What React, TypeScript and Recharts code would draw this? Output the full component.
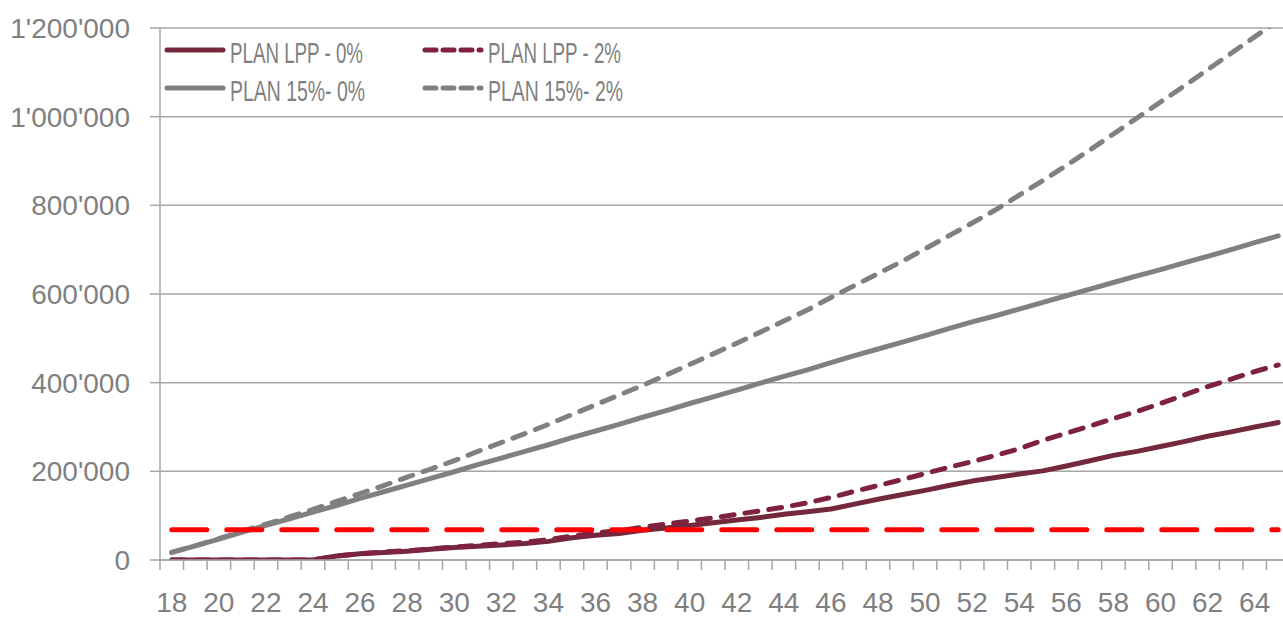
import { LineChart, Line, XAxis, YAxis, CartesianGrid, Legend } from "recharts";

// Age (x axis categories)
const AGES = [
  18, 19, 20, 21, 22, 23, 24, 25, 26, 27, 28, 29, 30, 31, 32, 33, 34, 35, 36, 37, 38, 39, 40, 41,
  42, 43, 44, 45, 46, 47, 48, 49, 50, 51, 52, 53, 54, 55, 56, 57, 58, 59, 60, 61, 62, 63, 64, 65,
];

// Capital per plan, CHF
const PLAN_LPP_0 = [
  0, 0, 0, 0, 0, 0, 0, 9000, 14000, 17000, 20000, 24000, 28000, 31000, 34000, 37000, 42000, 50000,
  56000, 60000, 67000, 72000, 78000, 84000, 90000, 96000, 103000, 109000, 115000, 126000, 137000,
  147000, 157000, 168000, 178000, 186000, 194000, 201000, 212000, 224000, 236000, 245000, 256000,
  267000, 279000, 289000, 300000, 310000,
];
const PLAN_LPP_2 = [
  0, 0, 0, 0, 0, 0, 0, 9000, 14000, 18000, 21000, 25000, 29000, 33000, 37000, 40000, 46000, 54000,
  61000, 66000, 74000, 81000, 88000, 95000, 103000, 111000, 119000, 129000, 141000, 155000, 168000,
  181000, 195000, 209000, 222000, 236000, 251000, 270000, 286000, 302000, 319000, 335000, 353000,
  372000, 391000, 408000, 425000, 440000,
];
const PLAN_15_0 = [
  17000, 32000, 47000, 63000, 78000, 93000, 108000, 123000, 139000, 154000, 169000, 184000, 199000,
  215000, 230000, 245000, 260000, 276000, 291000, 306000, 322000, 337000, 353000, 368000, 383000,
  399000, 414000, 429000, 445000, 461000, 476000, 491000, 506000, 522000, 537000, 551000, 566000,
  581000, 596000, 611000, 626000, 641000, 655000, 670000, 685000, 700000, 716000, 731000,
];
const PLAN_15_2 = [
  17000, 32000, 48000, 65000, 81000, 97000, 114000, 132000, 150000, 168000, 187000, 205000, 224000,
  245000, 265000, 285000, 306000, 328000, 350000, 372000, 394000, 417000, 441000, 465000, 489000,
  514000, 539000, 564000, 592000, 619000, 646000, 673000, 702000, 731000, 760000, 790000, 823000,
  856000, 890000, 925000, 961000, 997000, 1033000, 1069000, 1106000, 1143000, 1180000, 1217000,
];
// red dashed threshold
const THRESHOLD = 68000;

const Y_TICKS = [0, 200000, 400000, 600000, 800000, 1000000, 1200000];

const SERIES = [
  { key: "lpp0", name: "PLAN LPP - 0%", color: "#74283c", dash: undefined, textLen: 133 },
  { key: "lpp2", name: "PLAN LPP - 2%", color: "#7e2240", dash: "13 11", textLen: 133 },
  { key: "p15_0", name: "PLAN 15%- 0%", color: "#808080", dash: undefined, textLen: 135 },
  { key: "p15_2", name: "PLAN 15%- 2%", color: "#808080", dash: "13 11", textLen: 135 },
];

const data = AGES.map((age, i) => ({
  age,
  lpp0: PLAN_LPP_0[i],
  lpp2: PLAN_LPP_2[i],
  p15_0: PLAN_15_0[i],
  p15_2: PLAN_15_2[i],
  seuil: THRESHOLD,
}));

const CHART_W = 1300;
const CHART_H = 617;
const Y_AXIS_W = 160;
const MARGIN = { top: 28, right: 10, bottom: 0, left: 0 };
const PLOT_W = CHART_W - Y_AXIS_W - MARGIN.left - MARGIN.right;
const STEP = PLOT_W / AGES.length;

const TEXT = "#7f7f7f";
const AXIS = "#a6a6a6";
const FONT = "'Liberation Sans', Arial, sans-serif";

const fmt = (v: number) => String(v).replace(/\B(?=(\d{3})+(?!\d))/g, "'");

function AgeTick(props: any) {
  const { x, y, payload } = props;
  const bx = x - STEP / 2;
  return (
    <g>
      <line x1={bx} x2={bx} y1={y - 10} y2={y} stroke={AXIS} strokeWidth={1.5} />
      {payload.value % 2 === 0 && (
        <text x={x} y={y + 42} textAnchor="middle" fill={TEXT} fontSize={28} fontFamily={FONT}>
          {payload.value}
        </text>
      )}
    </g>
  );
}

function PlanLegend() {
  const rows = [
    [SERIES[0], SERIES[1]],
    [SERIES[2], SERIES[3]],
  ];
  return (
    <svg width={700} height={90}>
      {rows.map((row, r) =>
        row.map((s, c) => {
          const x0 = c === 0 ? 5 : 263;
          const ly = r === 0 ? 22 : 60;
          return (
            <g key={s.key}>
              <line
                x1={x0 + 2}
                x2={x0 + 58}
                y1={ly}
                y2={ly}
                stroke={s.color}
                strokeWidth={5}
                strokeLinecap="round"
                strokeDasharray={s.dash ? "11 7" : undefined}
              />
              <text
                x={x0 + 65}
                y={ly + 13}
                fill={TEXT}
                fontSize={30}
                fontFamily="'Liberation Sans Narrow', 'Arial Narrow', 'Liberation Sans', sans-serif"
                textLength={s.textLen}
                lengthAdjust="spacingAndGlyphs"
              >
                {s.name}
              </text>
            </g>
          );
        })
      )}
    </svg>
  );
}

export default function App() {
  return (
    <div
      style={{
        position: "absolute",
        left: 0,
        top: 0,
        width: 1283,
        height: 617,
        overflow: "hidden",
        background: "#fff",
      }}
    >
      <LineChart width={CHART_W} height={CHART_H} data={data} margin={MARGIN}>
        <CartesianGrid vertical={false} stroke={AXIS} strokeWidth={1.5} />
        <XAxis
          dataKey="age"
          height={57}
          interval={0}
          padding={{ left: STEP / 2, right: STEP / 2 }}
          tickSize={10}
          tickMargin={0}
          tickLine={false}
          axisLine={{ stroke: AXIS, strokeWidth: 1.5 }}
          tick={<AgeTick />}
        />
        <YAxis
          width={Y_AXIS_W}
          domain={[0, 1200000]}
          ticks={Y_TICKS}
          allowDataOverflow
          tickFormatter={fmt}
          tickSize={10}
          tickMargin={20}
          axisLine={{ stroke: AXIS, strokeWidth: 1.5 }}
          tickLine={{ stroke: AXIS, strokeWidth: 1.5 }}
          tick={{ fill: TEXT, fontSize: 28, fontFamily: FONT }}
        />
        <Legend
          layout="horizontal"
          verticalAlign="middle"
          align="center"
          wrapperStyle={{ top: 28, left: 160, width: 700, height: 90 }}
          content={<PlanLegend />}
        />
        {SERIES.map((s) => (
          <Line
            key={s.key}
            dataKey={s.key}
            name={s.name}
            type="linear"
            stroke={s.color}
            strokeWidth={5}
            strokeLinecap="round"
            strokeLinejoin="round"
            strokeDasharray={s.dash}
            dot={false}
            activeDot={false}
            isAnimationActive={false}
          />
        ))}
        <Line
          dataKey="seuil"
          type="linear"
          stroke="#ff0000"
          strokeWidth={5}
          strokeLinecap="round"
          strokeDasharray="35 20"
          dot={false}
          activeDot={false}
          legendType="none"
          isAnimationActive={false}
        />
      </LineChart>
    </div>
  );
}
